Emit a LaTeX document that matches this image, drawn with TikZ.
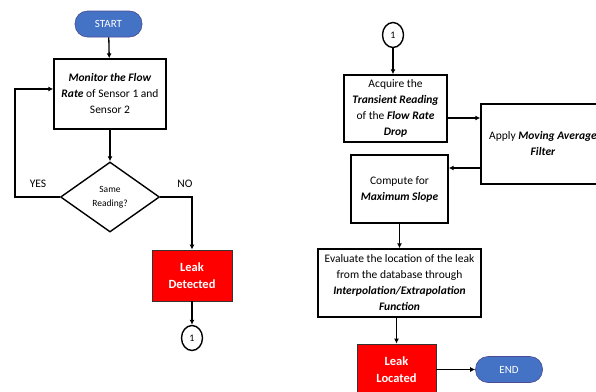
\documentclass[tikz,border=0pt]{standalone}
\usepackage{fontspec}
\setmainfont{Carlito}
\usepackage{tikz}
\usetikzlibrary{shapes.geometric,arrows.meta}

\newcommand{\bi}[1]{\textbf{\textit{#1}}}

\begin{document}
\begin{tikzpicture}[x=1pt,y=-1pt,
    every node/.style={font=\fontsize{11.5}{16}\selectfont},
    flowbox/.style={draw=black,line width=1.4pt,fill=white,align=center,inner sep=0pt},
    redbox/.style={draw=black!80,line width=0.8pt,fill=red,text=white,align=center,inner sep=0pt,font=\fontsize{12.5}{17}\selectfont\bfseries},
    term/.style={draw=blue!40!black!70,line width=0.6pt,fill={rgb,255:red,68;green,114;blue,196},text=white,rounded corners=12.5pt,inner sep=0pt,minimum width=67pt,minimum height=26pt,font=\fontsize{11}{13}\selectfont},
    conn/.style={draw=black,line width=1.4pt,ellipse,inner sep=0pt,minimum width=21pt,minimum height=25pt,font=\fontsize{10}{12}\selectfont},
    decision/.style={draw=black,line width=1.4pt,diamond,inner sep=0pt,minimum width=99pt,minimum height=70pt,align=center,font=\fontsize{9.5}{14}\selectfont},
    arrow/.style={line width=1.3pt,-{Latex[length=5pt,width=5pt]}}]
    \useasboundingbox (0,0) rectangle (596,391);
    \clip (0,0) rectangle (596,391);

    % left column
    \node[term] (start) at (108.5,24) {START};
    \node[flowbox,minimum width=112pt,minimum height=70pt] (monitor) at (110,94)
        {\bi{Monitor the Flow}\\ \bi{Rate} of Sensor 1 and\\ Sensor 2};
    \node[decision] (same) at (110,197) {Same\\ Reading?};
    \node[redbox,minimum width=80pt,minimum height=51pt] (detect) at (192,275.5) {Leak\\ Detected};
    \node[conn] (onea) at (192,338) {1};
    \node (yes) at (38,184) {YES};
    \node (no) at (185,184) {NO};
    \coordinate (loopa) at (15,197);
    \coordinate (loopb) at (15,89);
    \coordinate (noturn) at (192,197);

    \draw[arrow] (start) -- (monitor);
    \draw[arrow] (monitor) -- (same);
    \draw[arrow] (same.west) -- (loopa) -- (loopb) -- (monitor.west |- loopb);
    \draw[arrow] (same.east) -- (noturn) -- (detect.north);
    \draw[arrow] (detect) -- (onea);

    % right column
    \node[conn] (oneb) at (393,35) {1};
    \node[flowbox,minimum width=103pt,minimum height=67pt] (acquire) at (395.5,108.5)
        {Acquire the\\ \bi{Transient Reading}\\ of the \bi{Flow Rate}\\ \bi{Drop}};
    \node[flowbox,minimum width=124pt,minimum height=80pt] (filter) at (543,144)
        {Apply \bi{Moving Average}\\ \bi{Filter}};
    \node[flowbox,minimum width=97pt,minimum height=68pt] (compute) at (399.5,189)
        {Compute for\\ \bi{Maximum Slope}};
    \node[flowbox,minimum width=163pt,minimum height=68pt] (evaluate) at (399.5,283)
        {Evaluate the location of the leak\\ from the database through\\ \bi{Interpolation/Extrapolation}\\ \bi{Function}};
    \node[redbox,minimum width=79pt,minimum height=51pt] (located) at (396.5,369.5) {Leak\\ Located};
    \node[term] (end) at (509,369.5) {END};
    \coordinate (ina) at (0,118);
    \coordinate (inb) at (0,168);

    \draw[arrow] (oneb) -- (oneb |- acquire.north);
    \draw[arrow] (acquire.east |- ina) -- (filter.west |- ina);
    \draw[arrow] (filter.west |- inb) -- (compute.east |- inb);
    \draw[arrow] (compute) -- (compute |- evaluate.north);
    \draw[arrow] (located.north |- evaluate.south) -- (located.north);
    \draw[arrow] (located) -- (end);
\end{tikzpicture}
\end{document}
